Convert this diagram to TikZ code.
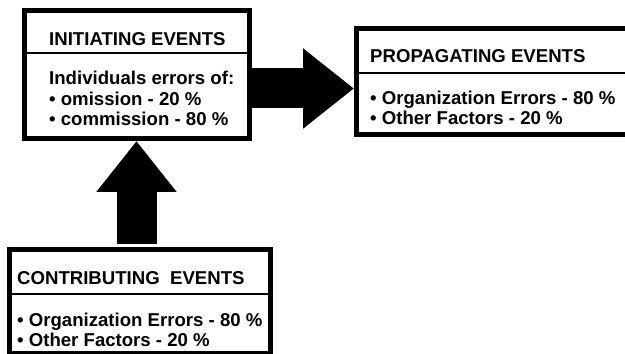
\documentclass[tikz,border=0pt]{standalone}
\usepackage{fontspec}
\setmainfont{Liberation Sans}
\usetikzlibrary{arrows.meta, positioning, calc}

\begin{document}
\begin{tikzpicture}[
    x=1pt, y=1pt,
    evbox/.style={rectangle, draw=black, line width=5pt, anchor=north west, inner sep=0pt},
    divline/.style={line width=2.5pt},
    evtext/.style={anchor=base west, inner sep=0pt, align=left, font=\bfseries\fontsize{18.6}{20.6}\selectfont},
    bigarrow/.style={line width=40pt, -{Triangle[length=51pt, width=77pt]}},
]
    \useasboundingbox (0,0) rectangle (625,354);

    \node[evbox, minimum width=225pt, minimum height=128pt] (init) at (22,346) {};
    \node[evbox, minimum width=306pt, minimum height=106pt] (prop) at (354,328) {};
    \node[evbox, minimum width=261pt, minimum height=104pt] (contrib) at (7,107) {};

    \draw[divline] ([yshift=-45pt]init.north west) -- ([yshift=-45pt]init.north east);
    \draw[divline] ([yshift=-47pt]prop.north west) -- ([yshift=-47pt]prop.north east);
    \draw[divline] ([yshift=-47pt]contrib.north west) -- ([yshift=-47pt]contrib.north east);

    \node[evtext] (initT) at (49,308) {INITIATING EVENTS};
    \node[evtext] (initL) at (49,228) {Individuals errors of:\\• omission - 20 \%\\• commission - 80 \%};

    \node[evtext] (propT) at (370,291) {PROPAGATING EVENTS};
    \node[evtext] (propL) at (370,229) {• Organization Errors - 80 \%\\• Other Factors - 20 \%};

    \node[evtext] (contribT) at (17,69) {CONTRIBUTING\ \ EVENTS};
    \node[evtext] (contribL) at (17,7) {• Organization Errors - 80 \%\\• Other Factors - 20 \%};

    \draw[bigarrow] ([yshift=-14pt]init.east) -- ([yshift=-14pt]init.east -| prop.west);
    \draw[bigarrow, shorten <=3pt] ([xshift=-3.5pt]contrib.north) -- ([xshift=-3.5pt]contrib.north |- init.south);
\end{tikzpicture}
\end{document}
